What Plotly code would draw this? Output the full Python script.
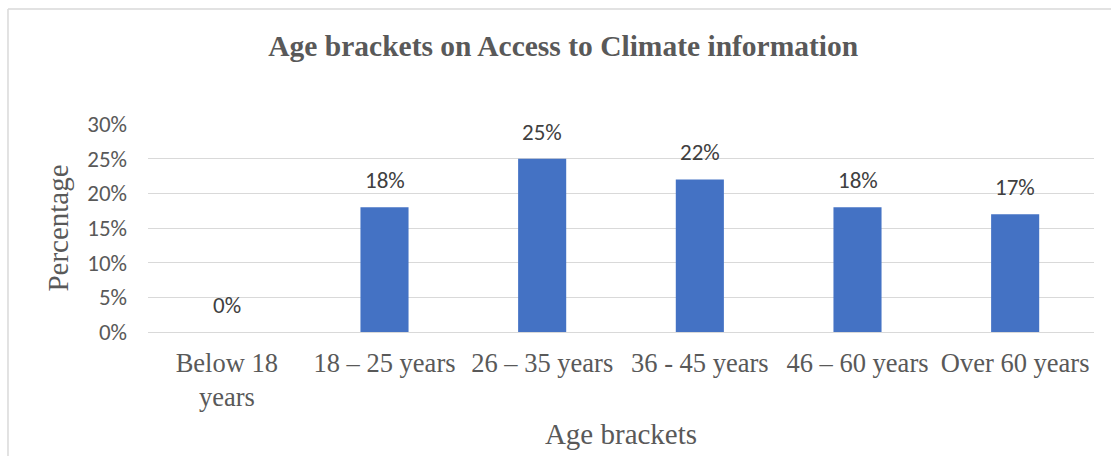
import plotly.graph_objects as go

categories = ["Below 18<br>years", "18 – 25 years", "26 – 35 years", "36 - 45 years", "46 – 60 years", "Over 60 years"]
values = [0, 18, 25, 22, 18, 17]
y_ticks = [0, 5, 10, 15, 20, 25, 30]
y_tick_labels = [f"{v}%" for v in y_ticks]

title_text = "Age brackets on Access to Climate information"
x_title = "Age brackets"
y_title = "Percentage"

serif = "Liberation Serif, Times New Roman, serif"
sans = "Carlito, Calibri, Lato, sans-serif"

fig = go.Figure()
fig.add_trace(go.Bar(
    x=categories, y=values,
    marker=dict(color="#4472C4", line=dict(width=0)),
    width=0.305,
    cliponaxis=False,
))

for c, v in zip(categories, values):
    fig.add_annotation(x=c, y=v, text=f"{v}%", showarrow=False,
                       yanchor="bottom", yshift=11,
                       font=dict(family=sans, size=23, color="#404040"))

fig.update_layout(
    width=1111, height=456,
    margin=dict(l=148, r=17, t=124, b=124),
    paper_bgcolor="white", plot_bgcolor="white",
    showlegend=False,
    title=dict(text=f"<b>{title_text}</b>", x=0.507, xanchor="center", y=0.899, yanchor="middle",
               font=dict(family=serif, size=29.5, color="#595959")),
    xaxis=dict(
        tickfont=dict(family=serif, size=26.5, color="#595959"),
        showgrid=False, showline=False, ticks="",
        ticklabelstandoff=12, automargin=False,
        title=dict(text=x_title, font=dict(family=serif, size=29, color="#595959"), standoff=12),
    ),
    yaxis=dict(
        range=[0, 30], tickvals=y_ticks, ticktext=y_tick_labels,
        tickfont=dict(family=sans, size=23, color="#595959"),
        showgrid=True, gridcolor="#D9D9D9", gridwidth=1.3,
        zeroline=True, zerolinecolor="#D9D9D9", zerolinewidth=1.3,
        showline=False, ticks="", automargin=False,
        ticklabelstandoff=20,
        title=dict(text=y_title, font=dict(family=serif, size=29, color="#595959"), standoff=10),
    ),
    bargap=0.7,
)

# chart border (top and left edges visible)
fig.add_shape(type="line", xref="paper", yref="paper", x0=-0.148, x1=1.1, y0=1.553, y1=1.553,
              line=dict(color="#D9D9D9", width=1.5))
fig.add_shape(type="line", xref="paper", yref="paper", x0=-0.148, x1=-0.148, y0=1.553, y1=-0.7,
              line=dict(color="#D9D9D9", width=1.5))

fig.write_html("out.html")
